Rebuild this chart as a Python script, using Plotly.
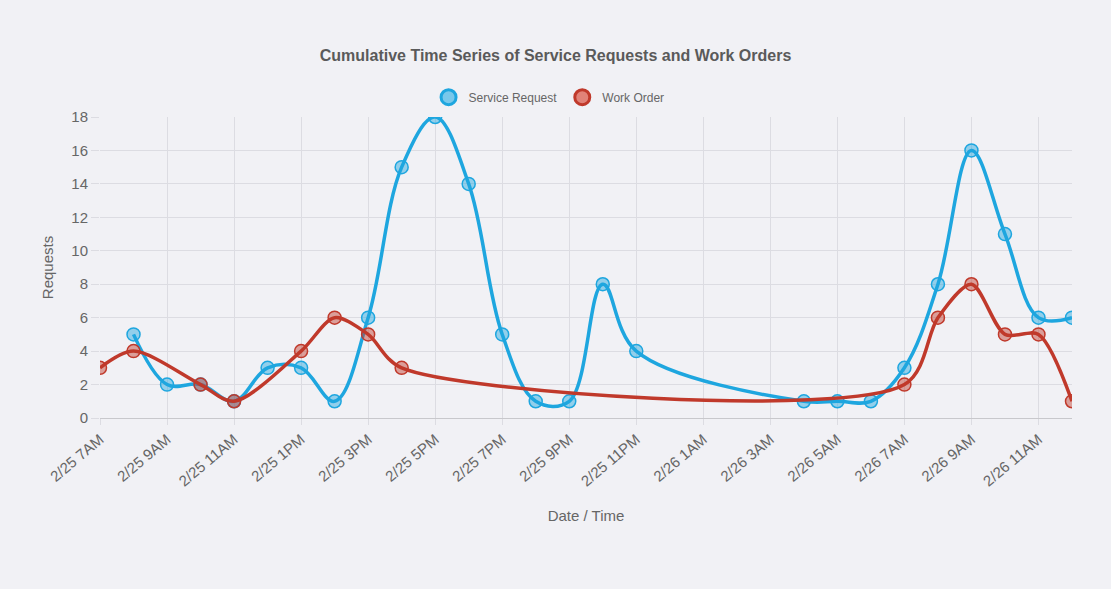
import plotly.graph_objects as go

# ---- data ----
sr_times = [
    "2019-02-25 08:00", "2019-02-25 09:00", "2019-02-25 10:00", "2019-02-25 11:00",
    "2019-02-25 12:00", "2019-02-25 13:00", "2019-02-25 14:00", "2019-02-25 15:00",
    "2019-02-25 16:00", "2019-02-25 17:00", "2019-02-25 18:00", "2019-02-25 19:00",
    "2019-02-25 20:00", "2019-02-25 21:00", "2019-02-25 22:00", "2019-02-25 23:00",
    "2019-02-26 04:00", "2019-02-26 05:00", "2019-02-26 06:00", "2019-02-26 07:00",
    "2019-02-26 08:00", "2019-02-26 09:00", "2019-02-26 10:00", "2019-02-26 11:00",
    "2019-02-26 12:00",
]
sr_values = [5, 2, 2, 1, 3, 3, 1, 6, 15, 18, 14, 5, 1, 1, 8, 4,
             1, 1, 1, 3, 8, 16, 11, 6, 6]

wo_times = [
    "2019-02-25 07:00", "2019-02-25 08:00", "2019-02-25 10:00", "2019-02-25 11:00",
    "2019-02-25 13:00", "2019-02-25 14:00", "2019-02-25 15:00", "2019-02-25 16:00",
    "2019-02-26 07:00", "2019-02-26 08:00", "2019-02-26 09:00", "2019-02-26 10:00",
    "2019-02-26 11:00", "2019-02-26 12:00",
]
wo_values = [3, 4, 2, 1, 4, 6, 5, 3, 2, 6, 8, 5, 5, 1]

x_start = "2019-02-25 07:00"
x_end = "2019-02-26 12:00"

title_text = "Cumulative Time Series of Service Requests and Work Orders"
y_title = "Requests"
x_title = "Date / Time"

# ---- style ----
BLUE = "#1ea6df"
BLUE_FILL = "rgba(30,166,223,0.45)"
RED = "#c0392b"
RED_FILL = "rgba(192,57,43,0.45)"
BG = "#f1f1f5"
GRID = "#dcdce2"
TXT = "#666666"
FONT = "Liberation Sans, Arial, sans-serif"

fig = go.Figure()

fig.add_trace(go.Scatter(
    x=sr_times, y=sr_values, mode="lines+markers", name="Service Request",
    line=dict(color=BLUE, width=3.5, shape="spline", smoothing=1.05),
    marker=dict(size=13, color=BLUE_FILL, line=dict(color=BLUE, width=1.5)),
    showlegend=False,
))
fig.add_trace(go.Scatter(
    x=wo_times, y=wo_values, mode="lines+markers", name="Work Order",
    line=dict(color=RED, width=3.5, shape="spline", smoothing=0.85),
    marker=dict(size=13, color=RED_FILL, line=dict(color=RED, width=1.5)),
    showlegend=False,
))
# legend-only entries (circle symbols like the reference)
fig.add_trace(go.Scatter(
    x=[None], y=[None], mode="markers", name="Service Request",
    marker=dict(size=15, color="rgba(120,200,235,1)", line=dict(color=BLUE, width=3)),
))
fig.add_trace(go.Scatter(
    x=[None], y=[None], mode="markers", name="Work Order",
    marker=dict(size=15, color="rgba(225,130,120,1)", line=dict(color=RED, width=3)),
))

fig.update_layout(
    width=1111, height=589,
    paper_bgcolor=BG, plot_bgcolor=BG,
    margin=dict(l=100, r=39, t=117, b=171),
    font=dict(family=FONT, color=TXT, size=14),
    title=dict(text="<b>" + title_text + "</b>", x=0.5, xanchor="center",
               y=1 - 55 / 589, yanchor="middle", yref="container",
               font=dict(size=16, color="#5a5a5a")),
    legend=dict(orientation="h", x=0.462, xanchor="center", y=1.066, yanchor="middle",
                font=dict(size=12, color=TXT), bgcolor="rgba(0,0,0,0)",
                itemwidth=30, tracegroupgap=0),
    hovermode=False,
)

fig.update_xaxes(
    type="date", range=[x_start, x_end],
    tick0=x_start, dtick=2 * 3600 * 1000,
    tickformat="%-m/%-d %-I%p", tickangle=-40,
    showgrid=True, gridcolor=GRID, gridwidth=1,
    ticks="outside", ticklen=6, tickcolor=GRID,
    showline=True, linecolor="#c8c8cc", linewidth=1,
    zeroline=False,
    tickfont=dict(size=15, color=TXT),
    title=dict(text=x_title, font=dict(size=15, color=TXT), standoff=22),
)
fig.update_yaxes(
    range=[0, 18], dtick=2, tick0=0,
    showgrid=True, gridcolor=GRID, gridwidth=1,
    ticks="outside", ticklen=8, tickcolor=GRID,
    zeroline=False, showline=False,
    tickfont=dict(size=15, color=TXT),
    title=dict(text=y_title, font=dict(size=15, color=TXT), standoff=14),
)

fig.write_html(
    "out.html",
    config={"displayModeBar": False},
    post_script="document.body.style.margin='0';document.body.style.background='" + BG + "';",
)
